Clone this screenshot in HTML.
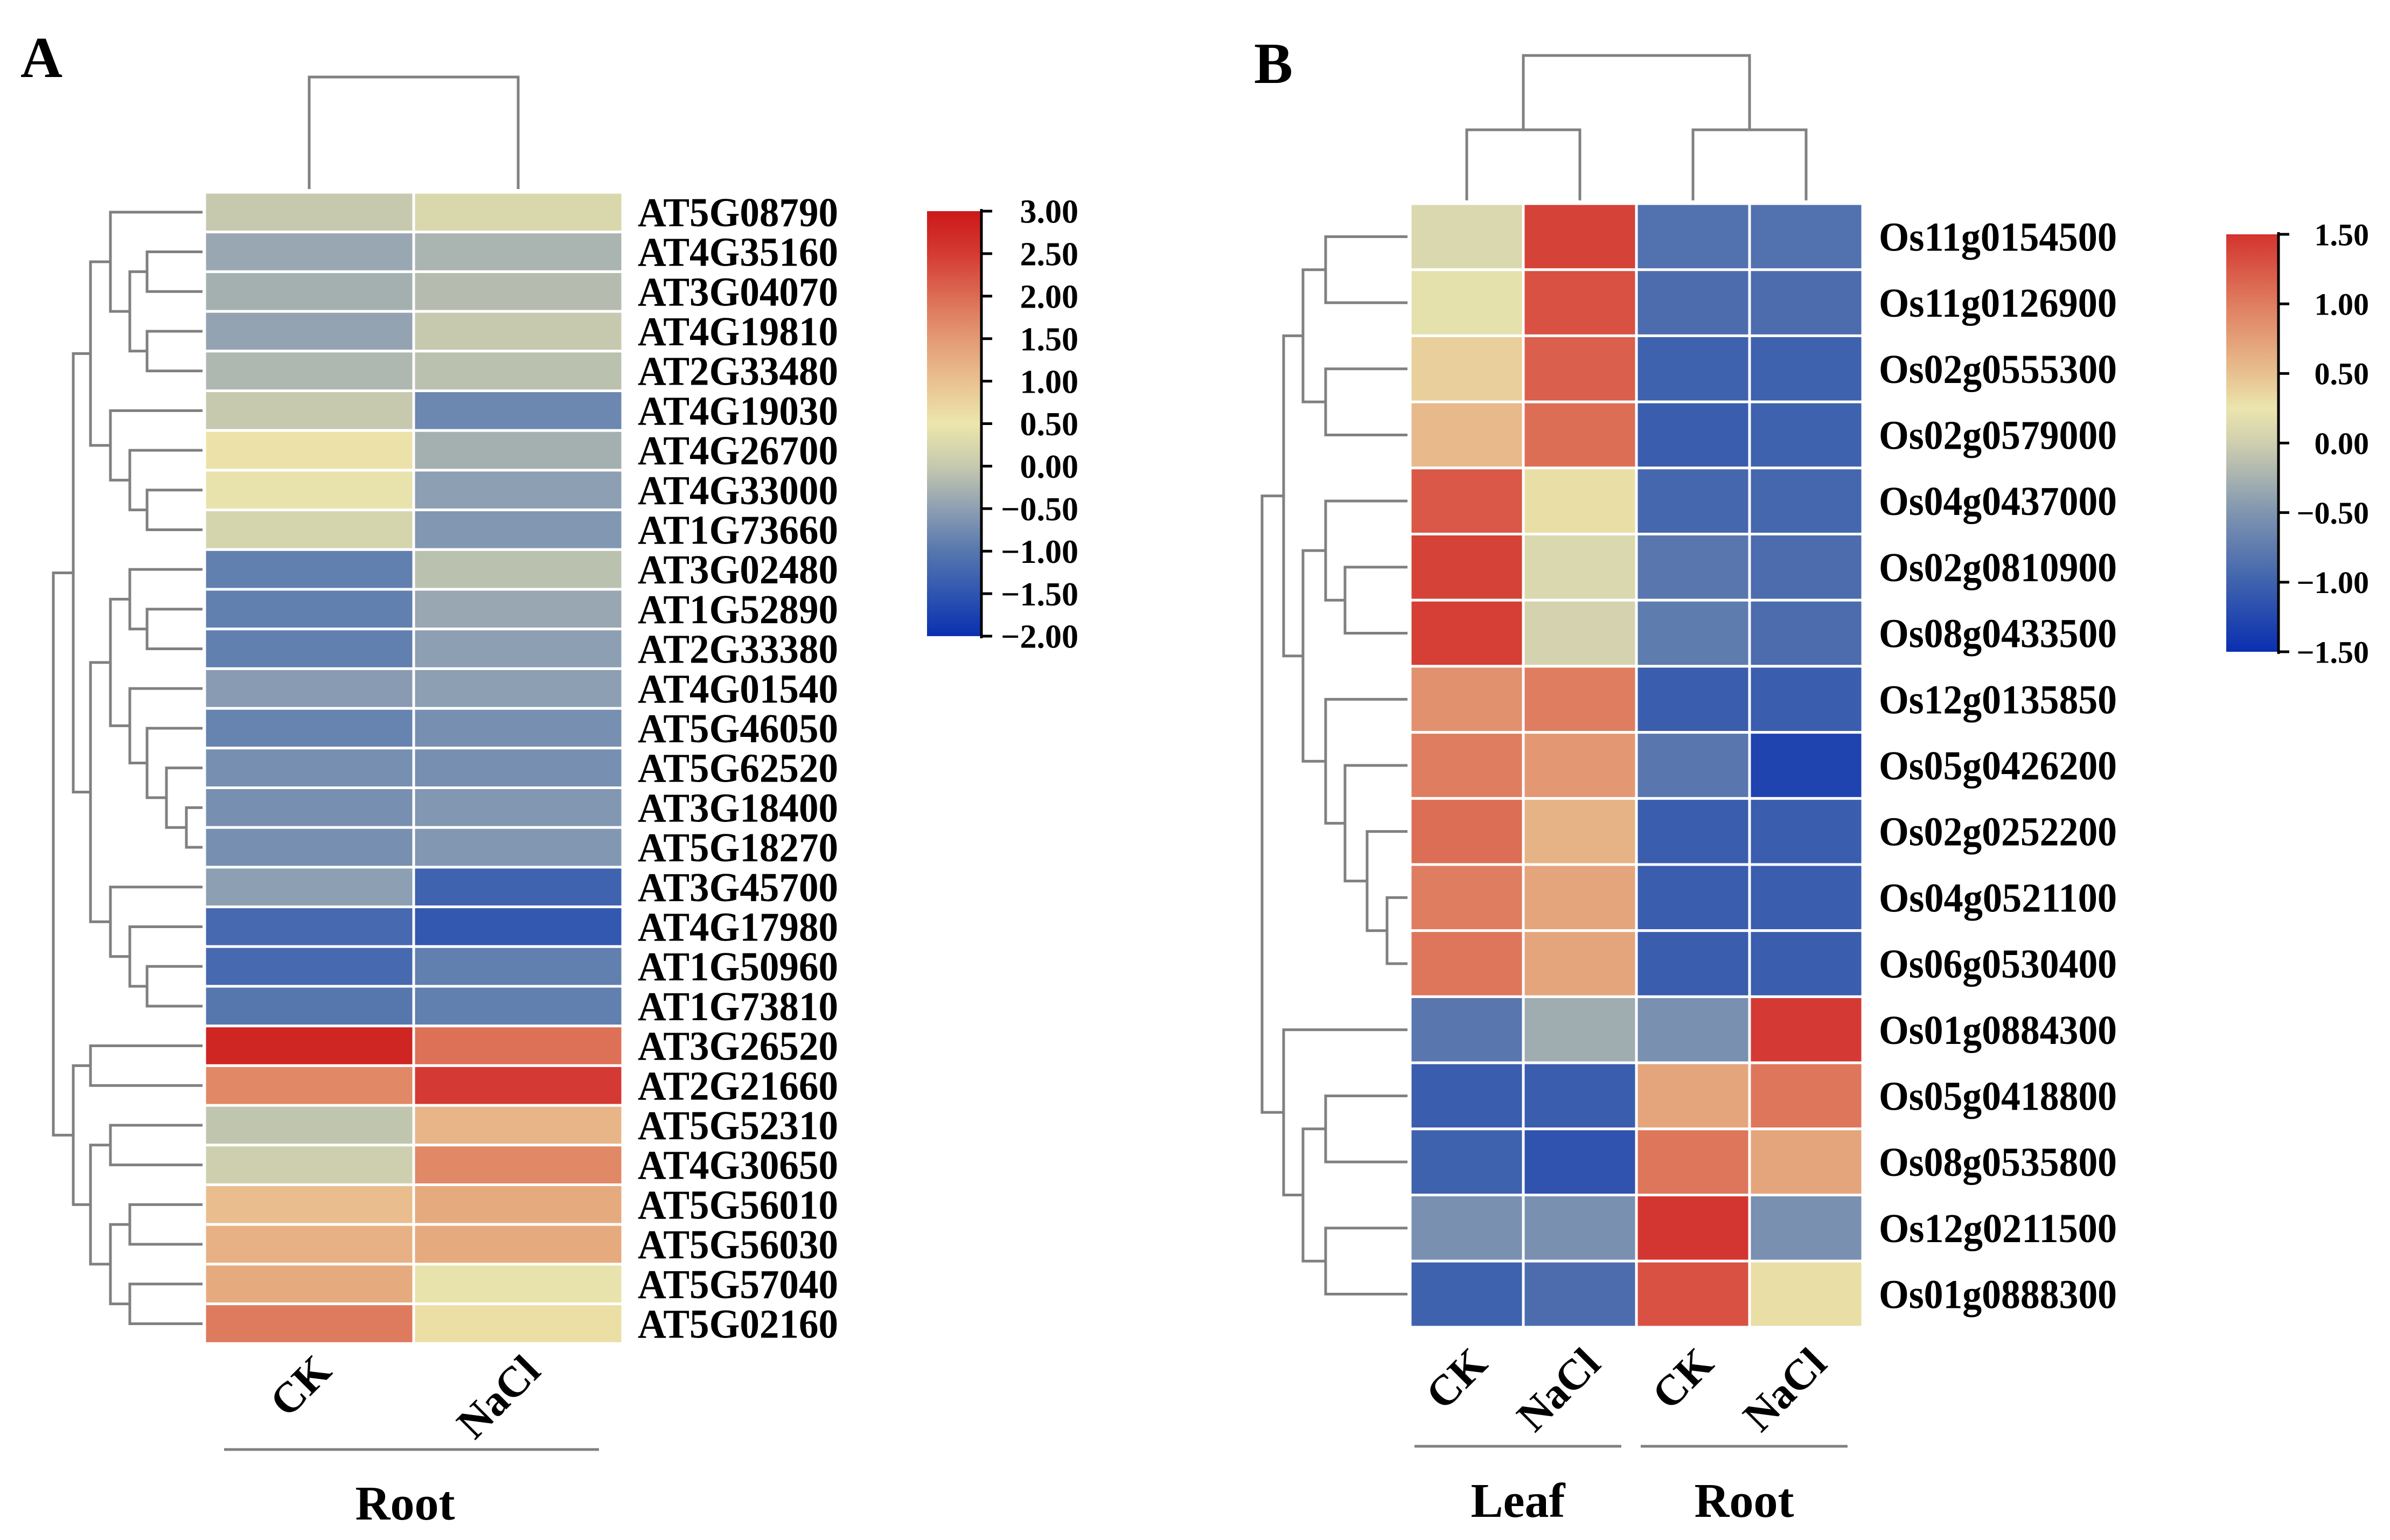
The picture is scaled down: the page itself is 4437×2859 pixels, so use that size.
<!DOCTYPE html>
<html><head><meta charset="utf-8">
<style>
html,body{margin:0;padding:0;background:#fff;}
svg{display:block;}
text{font-family:"Liberation Serif",serif;font-weight:bold;fill:#000;}
</style></head>
<body>
<svg id="fig" width="4437" height="2859" viewBox="0 0 4437 2859" xmlns="http://www.w3.org/2000/svg">
<defs>
<linearGradient id="gradA" x1="0" y1="1" x2="0" y2="0">
<stop offset="0" stop-color="#0a2fb0"/><stop offset="0.1" stop-color="#2f55b0"/><stop offset="0.2" stop-color="#5677ae"/><stop offset="0.3" stop-color="#8d9fb2"/><stop offset="0.4" stop-color="#c6c9ae"/><stop offset="0.5" stop-color="#ece6ac"/><stop offset="0.6" stop-color="#e9c190"/><stop offset="0.7" stop-color="#e49a74"/><stop offset="0.8" stop-color="#dc6c54"/><stop offset="0.9" stop-color="#d43a33"/><stop offset="1" stop-color="#cc1818"/>
</linearGradient>
<linearGradient id="gradB" x1="0" y1="1" x2="0" y2="0">
<stop offset="0" stop-color="#0a2fb0"/><stop offset="0.1667" stop-color="#3f62ae"/><stop offset="0.3333" stop-color="#7f95b0"/><stop offset="0.5" stop-color="#cfcfaf"/><stop offset="0.5833" stop-color="#ebe5ad"/><stop offset="0.6667" stop-color="#e8c090"/><stop offset="0.8333" stop-color="#df7d60"/><stop offset="1" stop-color="#d3332e"/>
</linearGradient>
</defs>
<g id="layer"></g>
</svg>
<script>
// ---------- Panel A data ----------
const genesA = ["AT5G08790","AT4G35160","AT3G04070","AT4G19810","AT2G33480","AT4G19030","AT4G26700","AT4G33000","AT1G73660","AT3G02480","AT1G52890","AT2G33380","AT4G01540","AT5G46050","AT5G62520","AT3G18400","AT5G18270","AT3G45700","AT4G17980","AT1G50960","AT1G73810","AT3G26520","AT2G21660","AT5G52310","AT4G30650","AT5G56010","AT5G56030","AT5G57040","AT5G02160"];
const conditionsA = ["CK","NaCl"];
const valuesA_CK   = [0.0,-0.4,-0.3,-0.45,-0.2,0.0,0.55,0.45,0.2,-0.9,-0.9,-0.9,-0.55,-0.85,-0.7,-0.7,-0.7,-0.5,-1.2,-1.2,-1.0,2.8,1.7,-0.05,0.1,1.05,1.2,1.3,1.85];
const valuesA_NaCl = [0.25,-0.25,-0.15,0.0,-0.1,-0.8,-0.3,-0.5,-0.6,-0.1,-0.4,-0.5,-0.5,-0.7,-0.7,-0.6,-0.6,-1.3,-1.45,-0.9,-0.9,1.95,2.5,1.15,1.7,1.3,1.3,0.45,0.6];
const ticksA = [3.0,2.5,2.0,1.5,1.0,0.5,0.0,-0.5,-1.0,-1.5,-2.0];
// ---------- Panel B data ----------
const genesB = ["Os11g0154500","Os11g0126900","Os02g0555300","Os02g0579000","Os04g0437000","Os02g0810900","Os08g0433500","Os12g0135850","Os05g0426200","Os02g0252200","Os04g0521100","Os06g0530400","Os01g0884300","Os05g0418800","Os08g0535800","Os12g0211500","Os01g0888300"];
const conditionsB = ["CK","NaCl","CK","NaCl"];
const groupsB = ["Leaf","Root"];
const valuesB_LeafCK   = [0.1,0.2,0.4,0.55,1.25,1.4,1.42,0.85,1.0,1.1,1.0,1.05,-0.8,-1.05,-1.0,-0.55,-1.0];
const valuesB_LeafNaCl = [1.4,1.3,1.2,1.1,0.3,0.1,0.05,1.0,0.8,0.6,0.7,0.7,-0.3,-1.05,-1.15,-0.55,-0.9];
const valuesB_RootCK   = [-0.85,-0.9,-1.0,-1.05,-0.95,-0.8,-0.75,-1.05,-0.8,-1.05,-1.05,-1.05,-0.55,0.7,1.05,1.48,1.3];
const valuesB_RootNaCl = [-0.85,-0.9,-1.0,-1.0,-0.95,-0.9,-0.9,-1.05,-1.3,-1.05,-1.05,-1.05,1.45,1.05,0.7,-0.55,0.3];
const ticksB = [1.5,1.0,0.5,0.0,-0.5,-1.0,-1.5];
// dendrogram topology: [level, left, right]; leaves are row indices
const treeA = [0,
  [1,
    [2,[3,0,[4,[5,1,2],[5,3,4]]],[3,5,[4,6,[5,7,8]]]],
    [2,[3,[4,9,[5,10,11]],[4,12,[5,13,[6,14,[7,15,16]]]]],[3,17,[4,18,[5,19,20]]]]
  ],
  [1,[2,21,22],[2,[3,23,24],[3,[4,25,26],[4,27,28]]]]
];
const treeB = [0,
  [1,
    [2,[3,0,1],[3,2,3]],
    [2,[3,4,[4,5,6]],[3,7,[4,8,[5,9,[6,10,11]]]]]
  ],
  [1,12,[2,[3,13,14],[3,15,16]]]
];

const NS="http://www.w3.org/2000/svg";
const layer=document.getElementById('layer');
function mk(tag,attrs,parent){const e=document.createElementNS(NS,tag);for(const k in attrs)e.setAttribute(k,attrs[k]);(parent||layer).appendChild(e);return e;}
function hex(h){return [parseInt(h.slice(1,3),16),parseInt(h.slice(3,5),16),parseInt(h.slice(5,7),16)];}
function cmap(stops,v){
  if(v<=stops[0][0])return stops[0][1];
  for(let i=1;i<stops.length;i++){
    if(v<=stops[i][0]){const t=(v-stops[i-1][0])/(stops[i][0]-stops[i-1][0]);const a=hex(stops[i-1][1]),b=hex(stops[i][1]);
      return 'rgb('+a.map((x,j)=>Math.round(x+(b[j]-x)*t)).join(',')+')';}
  }
  return stops[stops.length-1][1];
}
const stopsA=[[-2,"#0a2fb0"],[-1.5,"#2f55b0"],[-1,"#5677ae"],[-0.5,"#8d9fb2"],[0,"#c6c9ae"],[0.5,"#ece6ac"],[1,"#e9c190"],[1.5,"#e49a74"],[2,"#dc6c54"],[2.5,"#d43a33"],[3,"#cc1818"]];
const stopsB=[[-1.5,"#0a2fb0"],[-1,"#3f62ae"],[-0.5,"#7f95b0"],[0,"#cfcfaf"],[0.25,"#ebe5ad"],[0.5,"#e8c090"],[1,"#df7d60"],[1.5,"#d3332e"]];

function drawTree(tree,levelX,leafEnd,yOf,gname){
  const g=mk('g',{});
  
  
  function rec(n){
    if(typeof n==='number')return {x:leafEnd,y:yOf(n)};
    const a=rec(n[1]),b=rec(n[2]);const x=levelX[n[0]];
    const p=mk('path',{d:`M${a.x},${a.y}H${x}V${b.y}H${b.x}`,fill:'none',stroke:'#808080','stroke-width':5},g);
    
    
    return {x:x,y:(a.y+b.y)/2};
  }
  rec(tree);
}
function colorbar(x0,x1,y0,y1,ticks,grad,labelRight,fs,name){
  const g=mk('g',{});
  
  
  const r=mk('rect',{x:x0,y:y0,width:x1-x0,height:y1-y0,fill:'url(#'+grad+')'},g);
  
  
  mk('line',{x1:x1+2,x2:x1+2,y1:y0-4,y2:y1+4,stroke:'#000','stroke-width':5},g);
  const tMax=ticks[0],tMin=ticks[ticks.length-1];
  ticks.forEach(t=>{
    const y=y1-(t-tMin)/(tMax-tMin)*(y1-y0);
    mk('line',{x1:x1,x2:x1+22,y1:y,y2:y,stroke:'#000','stroke-width':5},g);
    const tx=mk('text',{x:labelRight,y:y+fs*0.35,'font-size':fs,'text-anchor':'end'},g);
    tx.textContent=(t<0?'\u2212':'')+Math.abs(t).toFixed(2);
    
    
  });
}

// ---------- Panel A ----------
(function(){
  const L=mk('text',{x:38,y:143,'font-size':108});L.textContent='A';
  
  
  const x0=380,cw=388,top=357,rh=73.7;
  const cols=[valuesA_CK,valuesA_NaCl];
  const g=mk('g',{});
  
  
  cols.forEach((vals,c)=>vals.forEach((v,r)=>{
    const e=mk('rect',{x:x0+c*cw,y:top+r*rh,width:cw,height:rh,fill:cmap(stopsA,v),stroke:'#fff','stroke-width':5},g);
    
    
  }));
  genesA.forEach((n,r)=>{
    const t=mk('text',{x:1184,y:top+(r+0.5)*rh+26,'font-size':76,textLength:372,lengthAdjust:'spacingAndGlyphs'});
    t.textContent=n;
    
    
  });
  drawTree(treeA,[99,136,168,205,241,273,309,346],376,r=>top+(r+0.5)*rh,'row-dendrogram-a');
  const cd=mk('path',{d:`M${x0+cw/2},351V143H${x0+cw*1.5}V351`,fill:'none',stroke:'#808080','stroke-width':5});
  
  
  const bottom=top+genesA.length*rh;
  conditionsA.forEach((c,i)=>{
    const cx=x0+(i+0.5)*cw+45,cy=bottom+55;
    const t=mk('text',{x:cx,y:cy,'font-size':80,'text-anchor':'end',transform:`rotate(-45 ${cx} ${cy})`});
    t.textContent=c;
    
    
  });
  const ul=mk('line',{x1:416,x2:1112,y1:2691,y2:2691,stroke:'#808080','stroke-width':5});
  
  
  const rt=mk('text',{x:752,y:2821,'font-size':90,'text-anchor':'middle'});rt.textContent='Root';
  
  
  colorbar(1721,1820,392,1181,ticksA,'gradA',2002,62,'colorbar-a');
})();

// ---------- Panel B ----------
(function(){
  const L=mk('text',{x:2328,y:154,'font-size':108});L.textContent='B';
  
  
  const x0=2618,cw=210,top=378,rh=122.7;
  const cols=[valuesB_LeafCK,valuesB_LeafNaCl,valuesB_RootCK,valuesB_RootNaCl];
  const g=mk('g',{});
  
  
  cols.forEach((vals,c)=>vals.forEach((v,r)=>{
    const e=mk('rect',{x:x0+c*cw,y:top+r*rh,width:cw,height:rh,fill:cmap(stopsB,v),stroke:'#fff','stroke-width':5},g);
    
    
  }));
  genesB.forEach((n,r)=>{
    const t=mk('text',{x:3488,y:top+(r+0.5)*rh+26,'font-size':76,textLength:442,lengthAdjust:'spacingAndGlyphs'});
    t.textContent=n;
    
    
  });
  drawTree(treeB,[2343,2383,2419,2461,2497,2538,2575],2613,r=>top+(r+0.5)*rh,'row-dendrogram-b');
  const c=i=>x0+(i+0.5)*cw;
  const m1=(c(0)+c(1))/2,m2=(c(2)+c(3))/2;
  const cd=mk('path',{d:`M${c(0)},372V241H${c(1)}V372M${c(2)},372V241H${c(3)}V372M${m1},241V103H${m2}V241`,fill:'none',stroke:'#808080','stroke-width':5});
  
  
  const bottom=top+genesB.length*rh;
  conditionsB.forEach((cn,i)=>{
    const cx=c(i)+42,cy=bottom+72;
    const t=mk('text',{x:cx,y:cy,'font-size':80,'text-anchor':'end',transform:`rotate(-45 ${cx} ${cy})`});
    t.textContent=cn;
    
    
  });
  groupsB.forEach((gn,i)=>{
    const xa=x0+i*2*cw+8,xb=x0+(i+1)*2*cw-28;
    const ul=mk('line',{x1:xa,x2:xb,y1:2685,y2:2685,stroke:'#808080','stroke-width':5});
    
    
    const t=mk('text',{x:(xa+xb)/2,y:2816,'font-size':90,'text-anchor':'middle'});t.textContent=gn;
    
    
  });
  colorbar(4133,4228,435,1210,ticksB,'gradB',4398,58,'colorbar-b');
})();
</script>
</body></html>
